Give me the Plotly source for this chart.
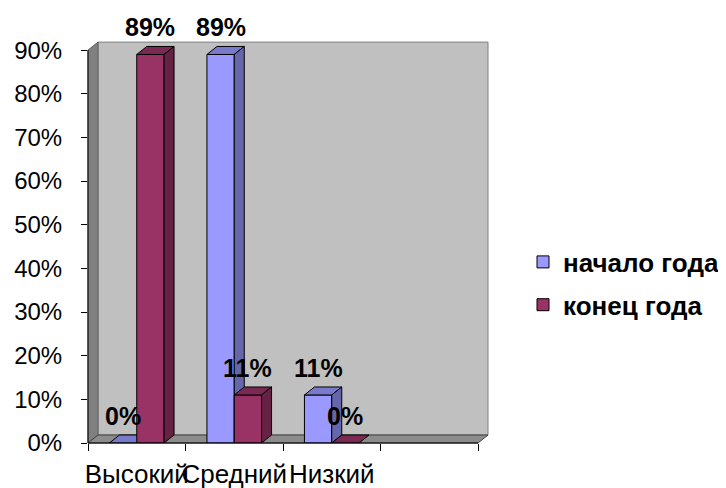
import plotly.graph_objects as go

categories = ["Высокий", "Средний", "Низкий"]
series_names = ["начало года", "конец года"]
start_values = [0.0, 0.89, 0.11]
end_values = [0.89, 0.11, 0.0]
y_tick_values = [0, 0.1, 0.2, 0.3, 0.4, 0.5, 0.6, 0.7, 0.8, 0.9]
y_tick_labels = ["0%", "10%", "20%", "30%", "40%", "50%", "60%", "70%", "80%", "90%"]

# ---- style / geometry ----
W, H = 726, 488
PAGE_OFF = 8                       # default body margin of the html page
ML, MR, MT, MB = 88 - PAGE_OFF, 248 + PAGE_OFF, 37 - PAGE_OFF, 45 + PAGE_OFF
XR = (-0.5, 3.5)
YR = (0, 0.93)
PW = W - ML - MR
PH = H - MT - MB
ux = (XR[1] - XR[0]) / PW          # data per pixel
uy = (YR[1] - YR[0]) / PH
DXP, DYP = 10, 8                   # 3D depth in pixels
dx, dy = DXP * ux, DYP * uy
BW = 0.28

BLUE, BLUE_TOP, BLUE_SIDE = "#9999FF", "#7A7ACC", "#6666AA"
MAR, MAR_TOP, MAR_SIDE = "#993366", "#7A2952", "#662244"
FONT = "Liberation Sans, Arial, sans-serif"

xpos = list(range(len(categories)))


def faces(values, left_off):
    top_x, top_y, side_x, side_y = [], [], [], []
    for i, v in zip(xpos, values):
        xl = i + left_off
        xr = xl + BW
        top_x += [xl, xl + dx, xr + dx, xr, xl, None]
        top_y += [v, v + dy, v + dy, v, v, None]
        if v > 0:
            side_x += [xr, xr + dx, xr + dx, xr, xr, None]
            side_y += [v, v + dy, dy, 0, v, None]
    return top_x, top_y, side_x, side_y


fig = go.Figure()

# series 1 (behind) on x/y
fig.add_trace(go.Bar(
    x=xpos, y=start_values, name=series_names[0], width=BW, offset=-BW,
    marker=dict(color=BLUE, line=dict(color="black", width=1)),
    legendgroup="a", hoverinfo="skip", xaxis="x", yaxis="y"))
tx, ty, sx, sy = faces(start_values, -BW)
fig.add_trace(go.Scatter(x=tx, y=ty, fill="toself", fillcolor=BLUE_TOP, mode="lines",
                         line=dict(color="black", width=1), showlegend=False,
                         hoverinfo="skip", xaxis="x", yaxis="y"))
fig.add_trace(go.Scatter(x=sx, y=sy, fill="toself", fillcolor=BLUE_SIDE, mode="lines",
                         line=dict(color="black", width=1), showlegend=False,
                         hoverinfo="skip", xaxis="x", yaxis="y"))

# series 2 (in front) on overlaying x2/y2
fig.add_trace(go.Bar(
    x=xpos, y=end_values, name=series_names[1], width=BW, offset=0,
    marker=dict(color=MAR, line=dict(color="black", width=1)),
    legendgroup="b", hoverinfo="skip", xaxis="x2", yaxis="y2"))
tx, ty, sx, sy = faces(end_values, 0)
fig.add_trace(go.Scatter(x=tx, y=ty, fill="toself", fillcolor=MAR_TOP, mode="lines",
                         line=dict(color="black", width=1), showlegend=False,
                         hoverinfo="skip", xaxis="x2", yaxis="y2"))
fig.add_trace(go.Scatter(x=sx, y=sy, fill="toself", fillcolor=MAR_SIDE, mode="lines",
                         line=dict(color="black", width=1), showlegend=False,
                         hoverinfo="skip", xaxis="x2", yaxis="y2"))


# ---- walls (paper coords) ----
def px(xd):
    return (xd - XR[0]) / (XR[1] - XR[0])


def py(yd):
    return (yd - YR[0]) / (YR[1] - YR[0])


def path(pts):
    return "M" + "L".join(f"{px(a):.5f},{py(b):.5f}" for a, b in pts) + "Z"


ymax = y_tick_values[-1]
shapes = []
# back wall
shapes.append(dict(type="rect", xref="paper", yref="paper", layer="below",
                   x0=px(XR[0] + dx), x1=px(XR[1] + dx), y0=py(dy), y1=py(ymax + dy),
                   fillcolor="#C0C0C0", line=dict(color="#808080", width=1)))
# left wall
shapes.append(dict(type="path", xref="paper", yref="paper", layer="below",
                   path=path([(XR[0], 0), (XR[0] + dx, dy), (XR[0] + dx, ymax + dy), (XR[0], ymax)]),
                   fillcolor="#808080", line=dict(color="#606060", width=1)))
# floor
shapes.append(dict(type="path", xref="paper", yref="paper", layer="below",
                   path=path([(XR[0], 0), (XR[0] + dx, dy), (XR[1] + dx, dy), (XR[1], 0)]),
                   fillcolor="#8C8C8C", line=dict(color="#404040", width=1)))
# front axis lines
shapes.append(dict(type="line", xref="paper", yref="paper", layer="above",
                   x0=px(XR[0]), x1=px(XR[0]), y0=py(0), y1=py(ymax),
                   line=dict(color="black", width=1)))
shapes.append(dict(type="line", xref="paper", yref="paper", layer="above",
                   x0=px(XR[0]), x1=px(XR[1]), y0=py(0), y1=py(0),
                   line=dict(color="black", width=1)))

# ---- data labels ----
annotations = []
for vals, off in ((start_values, -BW / 2), (end_values, BW / 2)):
    for i, v in zip(xpos, vals):
        annotations.append(dict(x=i + off, y=v, xref="x", yref="y",
                                text=f"<b>{round(v * 100)}%</b>",
                                showarrow=False, yshift=27,
                                font=dict(family=FONT, size=25, color="black")))

legend_mid_page_y = 283.5
fig.update_layout(
    width=W, height=H,
    margin=dict(l=ML, r=MR, t=MT, b=MB, autoexpand=False),
    paper_bgcolor="white", plot_bgcolor="rgba(0,0,0,0)",
    barmode="overlay",
    font=dict(family=FONT, size=24, color="black"),
    shapes=shapes, annotations=annotations,
    xaxis=dict(range=list(XR), tickmode="array", tickvals=xpos, ticktext=categories,
               ticks="", showgrid=False, zeroline=False, showline=False,
               tickangle=0, automargin=False, ticklabelstandoff=13,
               tickfont=dict(family=FONT, size=26, color="black"),
               minor=dict(tickmode="array", tickvals=[-0.5, 0.5, 1.5, 2.5, 3.5],
                          ticks="outside", ticklen=7, tickcolor="black", tickwidth=1, showgrid=False)),
    yaxis=dict(range=list(YR), tickmode="array", tickvals=y_tick_values, ticktext=y_tick_labels,
               ticks="outside", ticklen=6, tickcolor="black", showgrid=False, zeroline=False,
               showline=False, automargin=False, ticklabelstandoff=14,
               tickfont=dict(family=FONT, size=24, color="black")),
    xaxis2=dict(overlaying="x", matches="x", visible=False),
    yaxis2=dict(overlaying="y", matches="y", visible=False),
    legend=dict(x=(523 - PAGE_OFF - ML) / PW,
                y=(H - MB - (legend_mid_page_y - PAGE_OFF)) / PH,
                xanchor="left", yanchor="middle",
                traceorder="grouped", tracegroupgap=6,
                font=dict(family=FONT, size=26, color="black", weight="bold"),
                bgcolor="rgba(0,0,0,0)"),
    showlegend=True,
)

fig.write_html("out.html")
